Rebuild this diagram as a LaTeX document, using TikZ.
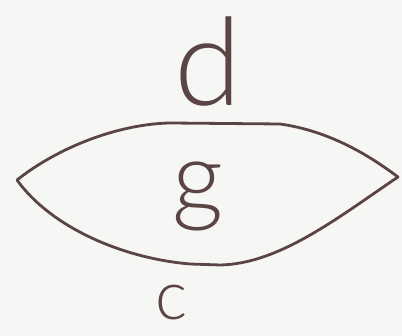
\documentclass[tikz,border=0pt]{standalone}
\usepackage{fontspec}
\setmainfont{Liberation Sans}
\newfontfamily\thinfont{Lato Light}
\definecolor{ink}{HTML}{5A4444}
\definecolor{paper}{HTML}{F6F6F5}
\tikzset{
  pen/.style={draw=ink, line width=2.8pt, line join=round, line cap=round},
  letter/.style={text=ink, inner sep=0pt, font=\thinfont\fontsize{100}{100}\selectfont}
}
\begin{document}
\begin{tikzpicture}[x=1pt,y=1pt]
\useasboundingbox (0,0) rectangle (402,336);
\fill[paper] (0,0) rectangle (402,336);
\draw[pen] (17,156) .. controls (60,190) and (120,212) .. (170,213) -- (280,212)
  .. controls (330,205) and (370,180) .. (398,159)
  .. controls (340,120) and (280,72) .. (220,71) -- (190,72)
  .. controls (120,78) and (50,110) .. (17,156) -- cycle;
\node[letter, anchor=base, font=\thinfont\fontsize{122}{122}\selectfont] (d) at (208,230) {d};
\node[letter, anchor=base] (g) at (198,123) {g};
\node[letter, anchor=base, font=\thinfont\fontsize{68}{68}\selectfont] (c) at (172,16) {c};
\end{tikzpicture}
\end{document}
